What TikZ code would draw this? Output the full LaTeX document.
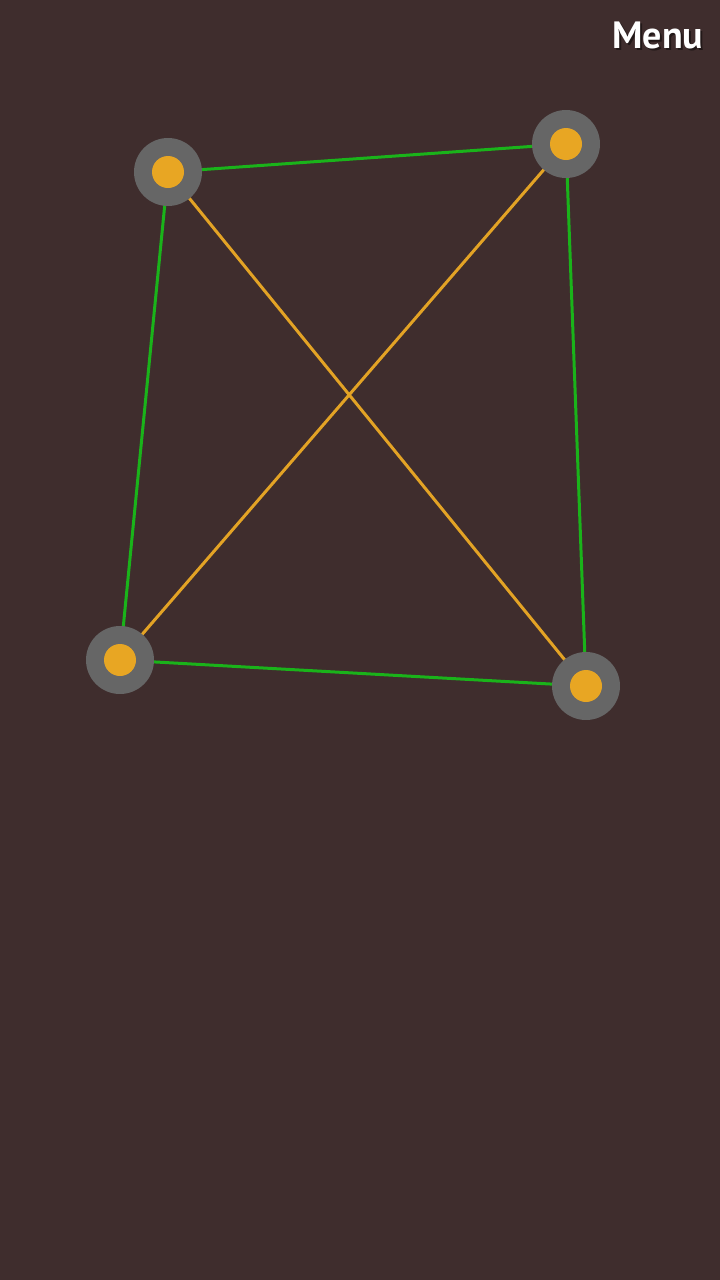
\documentclass[tikz,border=0pt]{standalone}
\usepackage{fontspec}
\setmainfont{PT Sans}
\definecolor{bg}{HTML}{3F2D2D}
\definecolor{ring}{HTML}{666666}
\definecolor{dot}{HTML}{E8A623}
\definecolor{edgegreen}{HTML}{1AB31A}
\definecolor{edgeorange}{HTML}{E3A325}
\tikzset{
  vertex/.style={circle, fill=ring, minimum size=68pt, inner sep=0pt},
  core/.style={circle, fill=dot, minimum size=32pt, inner sep=0pt},
  gedge/.style={draw=edgegreen, line width=3pt},
  oedge/.style={draw=edgeorange, line width=3pt},
  menutext/.style={anchor=east, inner sep=0pt, font=\fontsize{38}{42}\selectfont\bfseries},
}
\begin{document}
\begin{tikzpicture}[x=1pt,y=-1pt]
\fill[bg] (0,0) rectangle (720,1280);
\useasboundingbox (0,0) rectangle (720,1280);
\coordinate (a) at (168,172);
\coordinate (b) at (566,144);
\coordinate (c) at (120,660);
\coordinate (d) at (586,686);
\draw[gedge] (a) -- (b);
\draw[gedge] (b) -- (d);
\draw[gedge] (d) -- (c);
\draw[gedge] (c) -- (a);
\draw[oedge] (a) -- (d);
\draw[oedge] (b) -- (c);
\foreach \n in {a,b,c,d} {
  \node[vertex] (v\n) at (\n) {};
  \node[core] (k\n) at (\n) {};
}
\node[menutext, text=black, opacity=0.45] (menushadow) at (705.5,37.5) {Menu};
\node[menutext, text=white] (menu) at (703.5,35) {Menu};
\end{tikzpicture}
\end{document}
